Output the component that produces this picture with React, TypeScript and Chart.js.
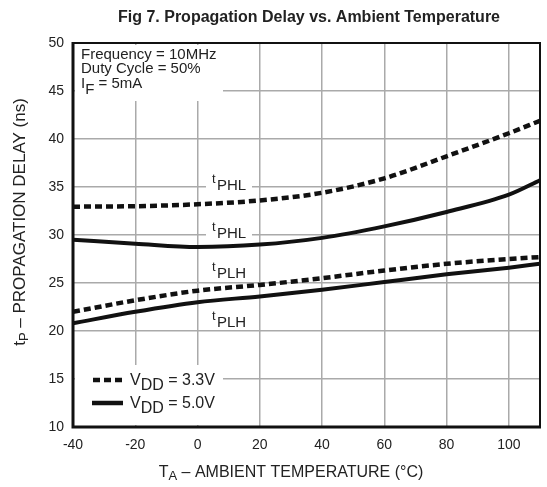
import React, { useEffect, useRef } from "react";
import { Chart, registerables } from "chart.js";

Chart.register(...registerables);

const temps = [-40, -20, 0, 20, 40, 60, 80, 100, 110];
const tphl33 = [32.95, 33.0, 33.2, 33.6, 34.4, 35.9, 38.2, 40.6, 41.9];
const tphl50 = [29.5, 29.1, 28.75, 29.0, 29.7, 30.9, 32.4, 34.2, 35.7];
const tplh33 = [22.0, 23.2, 24.2, 24.8, 25.5, 26.3, 27.0, 27.5, 27.7];
const tplh50 = [20.8, 22.0, 23.0, 23.6, 24.3, 25.1, 25.9, 26.6, 27.0];
const xTicks = [-40, -20, 0, 20, 40, 60, 80, 100];
const yTicks = [10, 15, 20, 25, 30, 35, 40, 45, 50];

const FONT = "'Liberation Sans', Arial, sans-serif";

function drawSub(ctx: CanvasRenderingContext2D, x: number, y: number, main: string, sub: string, rest: string, size: number, subSize: number, subDy: number) {
  ctx.font = `${size}px ${FONT}`;
  ctx.fillText(main, x, y);
  let w = ctx.measureText(main).width;
  ctx.font = `${subSize}px ${FONT}`;
  ctx.fillText(sub, x + w, y + subDy);
  w += ctx.measureText(sub).width;
  ctx.font = `${size}px ${FONT}`;
  ctx.fillText(rest, x + w, y);
  w += ctx.measureText(rest).width;
  return w;
}

function subWidth(ctx: CanvasRenderingContext2D, main: string, sub: string, rest: string, size: number, subSize: number) {
  ctx.font = `${size}px ${FONT}`;
  let w = ctx.measureText(main).width + ctx.measureText(rest).width;
  ctx.font = `${subSize}px ${FONT}`;
  w += ctx.measureText(sub).width;
  return w;
}

const overlay = {
  id: "overlay",
  afterDatasetsDraw(chart: any) {
    const ctx: CanvasRenderingContext2D = chart.ctx;
    const { left, right, top, bottom } = chart.chartArea;
    ctx.save();
    // white boxes
    ctx.fillStyle = "#fff";
    ctx.fillRect(left + 2, top + 2, 148, 56);
    ctx.fillRect(left + 2, 365, 148, bottom - 365 - 2);
    const lbls: [number, number, string][] = [
      [207, 190, "PHL"],
      [207, 238, "PHL"],
      [207, 278, "PLH"],
      [207, 327, "PLH"],
    ];
    ctx.fillStyle = "#fff";
    ctx.fillRect(206, 173, 46, 19);
    ctx.fillRect(206, 221, 46, 19);
    ctx.fillRect(206, 261, 46, 19);
    // frame
    ctx.strokeStyle = "#111";
    ctx.lineWidth = 2;
    ctx.strokeRect(left, top, right - left, bottom - top);
    ctx.lineWidth = 3;
    ctx.beginPath();
    ctx.moveTo(left, top - 1);
    ctx.lineTo(left, bottom);
    ctx.lineTo(right + 1, bottom);
    ctx.stroke();

    ctx.fillStyle = "#222";
    ctx.textBaseline = "alphabetic";
    ctx.textAlign = "left";
    // annotation
    ctx.font = `15px ${FONT}`;
    ctx.fillText("Frequency = 10MHz", 81, 59);
    ctx.fillText("Duty Cycle = 50%", 81, 73);
    drawSub(ctx, 81, 88, "I", "F", " = 5mA", 15, 15, 6);
    // curve labels
    for (const [x, y, s] of lbls) {
      ctx.font = `13px ${FONT}`;
      ctx.fillText("t", x + 5, y - 7);
      ctx.font = `15px ${FONT}`;
      ctx.fillText(s, x + 10, y);
    }
    // legend
    ctx.strokeStyle = "#111";
    ctx.lineWidth = 4.5;
    ctx.setLineDash([7, 4]);
    ctx.beginPath();
    ctx.moveTo(93, 380);
    ctx.lineTo(123, 380);
    ctx.stroke();
    ctx.setLineDash([]);
    ctx.beginPath();
    ctx.moveTo(92, 403);
    ctx.lineTo(123, 403);
    ctx.stroke();
    drawSub(ctx, 130, 385, "V", "DD", " = 3.3V", 16, 16, 5);
    drawSub(ctx, 130, 408, "V", "DD", " = 5.0V", 16, 16, 5);
    ctx.restore();
  },
  afterDraw(chart: any) {
    const ctx: CanvasRenderingContext2D = chart.ctx;
    ctx.save();
    ctx.fillStyle = "#222";
    ctx.textAlign = "center";
    ctx.font = `bold 16px ${FONT}`;
    ctx.fillText("Fig 7. Propagation Delay vs. Ambient Temperature", 309, 22);
    ctx.textAlign = "left";
    // x title
    const xw = subWidth(ctx, "T", "A", " – AMBIENT TEMPERATURE (°C)", 16, 13);
    drawSub(ctx, 291 - xw / 2, 477, "T", "A", " – AMBIENT TEMPERATURE (°C)", 16, 13, 3);
    // y title
    ctx.translate(25, 222);
    ctx.rotate(-Math.PI / 2);
    const yw = subWidth(ctx, "t", "P", " – PROPAGATION DELAY (ns)", 17, 13);
    drawSub(ctx, -yw / 2, 0, "t", "P", " – PROPAGATION DELAY (ns)", 17, 13, 3);
    ctx.restore();
  },
};

export default function App() {
  const ref = useRef<HTMLCanvasElement>(null);
  useEffect(() => {
    document.body.style.margin = "0";
    const dash = [7, 4];
    const mk = (data: number[], dashed: boolean) => ({
      data: temps.map((t, i) => ({ x: t, y: data[i] })),
      borderColor: "#111",
      borderWidth: dashed ? 4.5 : 4,
      borderDash: dashed ? dash : [],
      pointRadius: 0,
      cubicInterpolationMode: "monotone" as const,
      fill: false,
    });
    const chart = new Chart(ref.current!, {
      type: "line",
      data: {
        datasets: [mk(tphl33, true), mk(tphl50, false), mk(tplh33, true), mk(tplh50, false)],
      },
      options: {
        animation: false,
        responsive: false,
        maintainAspectRatio: false,
        layout: { padding: { top: 43, right: 7, left: 0, bottom: 0 } },
        plugins: { legend: { display: false }, tooltip: { enabled: false }, title: { display: false } },
        scales: {
          x: {
            type: "linear",
            min: -40,
            max: 110,
            afterBuildTicks: (s: any) => {
              s.ticks = xTicks.map((v) => ({ value: v }));
            },
            afterFit: (s: any) => {
              s.height = 60;
            },
            grid: { color: "#aaa", lineWidth: 1.5, drawTicks: false },
            border: { display: false },
            ticks: { color: "#222", font: { family: FONT, size: 14 }, padding: 10, maxRotation: 0 },
          },
          y: {
            type: "linear",
            min: 10,
            max: 50,
            afterBuildTicks: (s: any) => {
              s.ticks = yTicks.map((v) => ({ value: v }));
            },
            afterFit: (s: any) => {
              s.width = 73;
            },
            grid: { color: "#aaa", lineWidth: 1.5, drawTicks: false },
            border: { display: false },
            ticks: { color: "#222", font: { family: FONT, size: 14 }, padding: 9 },
          },
        },
      },
      plugins: [overlay],
    });
    return () => chart.destroy();
  }, []);
  return (
    <div style={{ width: 547, height: 487 }}>
      <canvas ref={ref} width={547} height={487} style={{ display: "block" }} />
    </div>
  );
}
